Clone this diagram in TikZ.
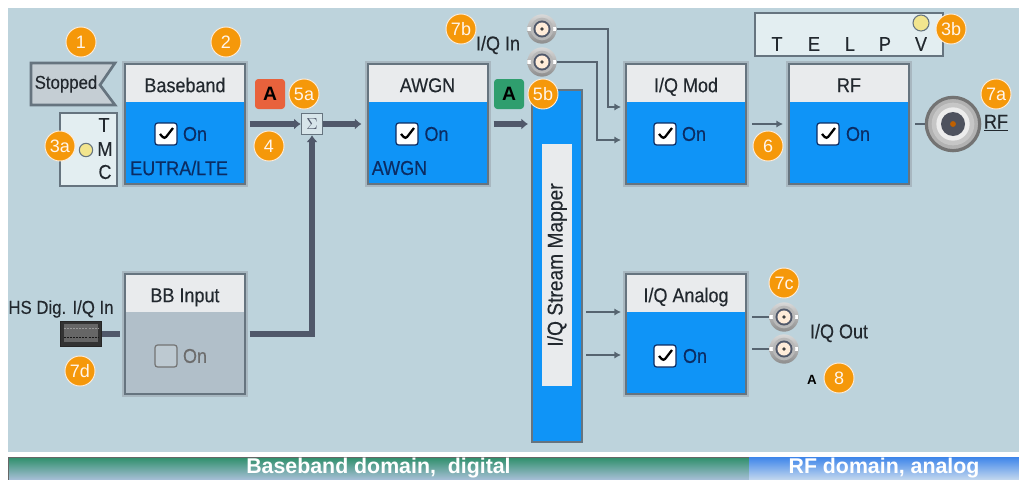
\documentclass[tikz,border=0pt]{standalone}
\usepackage{fontspec}
\setmainfont[FakeStretch=0.9,FakeBold=0.25]{Liberation Sans}
\newfontfamily\arialfont{Liberation Sans}
\usepackage{tikz}
\usetikzlibrary{arrows.meta}
\usetikzlibrary{positioning}
\definecolor{panelblue}{HTML}{BDD3DC}
\definecolor{blockblue}{HTML}{0F94F7}
\definecolor{headgray}{HTML}{E9EBED}
\definecolor{framedark}{HTML}{66747F}
\definecolor{framelight}{HTML}{A8B7C0}
\definecolor{wiredark}{HTML}{50586A}
\definecolor{wirethin}{HTML}{566470}
\definecolor{textdark}{HTML}{22282E}
\definecolor{textblue}{HTML}{0B2C63}
\definecolor{badgeorange}{HTML}{F5980A}
\definecolor{disabledgray}{HTML}{B1BFC9}
\definecolor{ledyellow}{HTML}{F2E58E}
\definecolor{boxpale}{HTML}{E3EEF1}
\definecolor{flaggray}{HTML}{C5CED4}
\definecolor{tagred}{HTML}{E8623C}
\definecolor{taggreen}{HTML}{2F9E6E}
\definecolor{bargreen}{HTML}{2E8F6A}
\definecolor{barpale}{HTML}{A8BFD8}
\definecolor{rfbarblue}{HTML}{3F86EA}
\definecolor{rfbarpale}{HTML}{C4D8EE}
\definecolor{jackdisc}{HTML}{4E525E}
\tikzset{
  lab/.style={font=\fontsize{15}{16}\selectfont,text=textdark,inner sep=0pt},
  sublab/.style={font=\fontsize{15}{16}\selectfont,text=textblue,inner sep=0pt,anchor=west},
  onlab/.style={font=\fontsize{15}{16}\selectfont,text=textblue,inner sep=0pt},
  blockframe/.style={rectangle,anchor=north west,inner sep=0pt,outer sep=0pt,
    minimum width=93pt,minimum height=93pt,fill=framedark,draw=framelight,line width=1.5pt},
  blockhead/.style={rectangle,anchor=north west,inner sep=0pt,outer sep=0pt,
    minimum width=88.5pt,minimum height=27.75pt,fill=headgray,lab,text height=13pt,text depth=0pt},
  blockbody/.style={rectangle,anchor=north west,inner sep=0pt,outer sep=0pt,
    minimum width=88.5pt,minimum height=60.75pt,fill=blockblue},
  checkbox/.style={rectangle,rounded corners=2pt,minimum size=16.5pt,inner sep=0pt,
    fill=white,draw=textblue,line width=.9pt},
  checked/.style={checkbox,path picture={
    \draw[line width=1.7pt,black]
      ([shift={(-6,0)}]path picture bounding box.center) -- ++(4.5,5) -- ++(8.5,-11);}},
  badge/.style={circle,minimum size=22.5pt,inner sep=0pt,fill=badgeorange,draw=white!85!orange,
    line width=.7pt,text=white!92!orange,font=\arialfont\fontsize{13.5}{14}\selectfont},
  tag/.style={rectangle,rounded corners=2.5pt,minimum size=22.5pt,inner sep=0pt,
    font=\arialfont\bfseries\fontsize{14.5}{15}\selectfont,text=black},
  thickwire/.style={wiredark,line width=4.4pt,-{Latex[length=5pt,width=8.5pt]}},
  plainwire/.style={wiredark,line width=4.4pt},
  thinwire/.style={wirethin,line width=1pt,-{Latex[length=5pt,width=5.5pt]}},
  stubwire/.style={wirethin,line width=1pt},
  infobox/.style={rectangle,inner sep=0pt,fill=boxpale,draw=framedark,line width=1.8pt},
  led/.style={circle,minimum size=#1,inner sep=0pt,fill=ledyellow,draw=framedark,line width=.8pt},
  bnc/.style={circle,minimum size=22pt,inner sep=0pt,top color=gray!30,bottom color=gray!90,
    path picture={
      \fill[white] ([shift={(-15,-2)}]path picture bounding box.center) rectangle ++(30,4);
      \fill[gray!55] (path picture bounding box.center) circle (8.5pt);
      \fill[wiredark] (path picture bounding box.center) circle (6.4pt);
      \fill[white!85!orange] (path picture bounding box.center) circle (4.9pt);
      \fill[black!75] (path picture bounding box.center) circle (1.4pt);}},
  rfjack/.style={circle,minimum size=40pt,inner sep=0pt,fill=gray!60,draw=gray!90!black,
    line width=2.4pt,path picture={
      \fill[gray!45] (path picture bounding box.center) circle (16pt);
      \fill[white!85!gray] (path picture bounding box.center) circle (12.5pt);
      \fill[jackdisc] (path picture bounding box.center) circle (9pt);
      \fill[orange!75!black] (path picture bounding box.center) circle (2.2pt);}},
  usbport/.style={rectangle,minimum width=31pt,minimum height=19pt,inner sep=0pt,
    fill=black!80,draw=black!85,line width=.9pt,path picture={
      \fill[black!60] ([shift={(-17,-10)}]path picture bounding box.center) rectangle ++(34,18);
      \draw[gray!80,line width=.7pt,dash pattern=on 1.5pt off .8pt]
        ([shift={(-17,-6)}]path picture bounding box.center) -- ++(34,0);
      \draw[black!90,line width=.7pt,dash pattern=on 1.5pt off .8pt]
        ([shift={(-17,3)}]path picture bounding box.center) -- ++(34,0);}},
}
\begin{document}
\begin{tikzpicture}[x=.75pt,y=-.75pt]
  \useasboundingbox (0,0) rectangle (1019,479);
  \fill[panelblue] (8,8) rectangle (1019,452);
  %%
  \node[rectangle,inner sep=0pt,outer sep=0pt,minimum width=555.75pt,minimum height=17pt,
        top color=bargreen,bottom color=barpale,
        text=white,font=\arialfont\bfseries\fontsize{16}{17}\selectfont,draw=black!60,line width=.5pt]
        (basedomain) at (378.5,468.5) {Baseband domain,\ \ digital};
  \node[rectangle,inner sep=0pt,outer sep=0pt,minimum width=202.5pt,minimum height=17pt,
        top color=rfbarblue,bottom color=rfbarpale,
        text=white,font=\arialfont\bfseries\fontsize{16}{17}\selectfont]
        (rfdomain) at (884,468.5) {RF domain, analog};
  %%
  \begin{scope}[shift={(126,65)},name prefix=bb-]
    \node[blockframe](frame) at (-3,-3) {};
    \node[blockhead](head) at (0,0) {Baseband};
    \node[blockbody](body) at (0,37) {};
    \node[checked](check) at (40,69) {};
    \node[onlab](on) at (69,69) {On};
    \node[sublab](sub) at (4,103) {EUTRA/LTE};
  \end{scope}
  %%
  \begin{scope}[shift={(368.5,65)},name prefix=awgn-]
    \node[blockframe](frame) at (-3,-3) {};
    \node[blockhead](head) at (0,0) {AWGN};
    \node[blockbody](body) at (0,37) {};
    \node[checked](check) at (38.5,69) {};
    \node[onlab](on) at (68,69) {On};
    \node[sublab](sub) at (3,103) {AWGN};
  \end{scope}
  %%
  \begin{scope}[shift={(627,65)},name prefix=mod-]
    \node[blockframe](frame) at (-3,-3) {};
    \node[blockhead](head) at (0,0) {I/Q Mod};
    \node[blockbody](body) at (0,37) {};
    \node[checked](check) at (38,69) {};
    \node[onlab](on) at (67,69) {On};
  \end{scope}
  %%
  \begin{scope}[shift={(790,65)},name prefix=rf-]
    \node[blockframe](frame) at (-3,-3) {};
    \node[blockhead](head) at (0,0) {RF};
    \node[blockbody](body) at (0,37) {};
    \node[checked](check) at (38,69) {};
    \node[onlab](on) at (68,69) {On};
  \end{scope}
  %%
  \begin{scope}[shift={(126,275)},name prefix=bbi-]
    \node[blockframe](frame) at (-3,-3) {};
    \node[blockhead](head) at (0,0) {BB Input};
    \node[blockbody,fill=disabledgray](body) at (0,37) {};
    \node[checkbox,fill=disabledgray!85!white,draw=gray!90!black](check) at (40,81) {};
    \node[onlab,text=gray!85!black](on) at (69,81) {On};
  \end{scope}
  %%
  \begin{scope}[shift={(627,275)},name prefix=ana-]
    \node[blockframe](frame) at (-3,-3) {};
    \node[blockhead](head) at (0,0) {I/Q Analog};
    \node[blockbody](body) at (0,37) {};
    \node[checked](check) at (38,81) {};
    \node[onlab](on) at (68,81) {On};
  \end{scope}
  %%
  \node[rectangle,inner sep=0pt,outer sep=0pt,minimum width=37.5pt,minimum height=264pt,
        fill=blockblue,draw=framedark,line width=1.8pt](mapper) at (557,266) {};
  \node[lab,rectangle,rotate=90,minimum width=182pt,minimum height=22.5pt,fill=headgray,
        font=\fontsize{16}{17}\selectfont](mappertext) at (557,265) {I/Q Stream Mapper};
  %%
  \draw[fill=flaggray,draw=framedark,line width=2pt]
    (31,63) -- (115,63) -- (100,85) -- (115,105) -- (31,105) -- cycle;
  \node[lab,font=\fontsize{14}{15}\selectfont](stopped) at (66,84) {Stopped};
  %%
  \node[infobox,minimum width=42.5pt,minimum height=55pt](tmcbox) at (88.5,149.5) {};
  \node[lab](tmcT) at (104,125) {T};
  \node[lab](tmcM) at (105,149) {M};
  \node[lab](tmcC) at (105,172) {C};
  \node[led=10pt](tmcled) at (86,150) {};
  %%
  \node[infobox,minimum width=141pt,minimum height=32pt](telpbox) at (849,34.5) {};
  \node[lab](telpT) at (777,44) {T};
  \node[lab](telpE) at (814,44) {E};
  \node[lab](telpL) at (850,44) {L};
  \node[lab](telpP) at (885,44) {P};
  \node[lab](telpV) at (921,44) {V};
  \node[led=12pt](telpled) at (921,23) {};
  %%
  \node[rectangle,draw=framedark,fill=panelblue!60!white,line width=1pt,minimum size=16pt,
        inner sep=0pt,font=\large,text=wiredark](sum) at (312,124) {$\Sigma$};
  \node[usbport](hsport) at (81,334) {};
  \node[lab,font=\fontsize{14}{15}\selectfont](hslabel) at (61,309) {HS Dig. I/Q In};
  \node[bnc](iqin1) at (542,29) {};
  \node[bnc](iqin2) at (542,62) {};
  \node[lab](iqinlabel) at (498,45) {I/Q In};
  \node[bnc](iqout1) at (784,317) {};
  \node[bnc](iqout2) at (784,349) {};
  \node[lab](iqoutlabel) at (839,333) {I/Q Out};
  \node[rfjack](rfjack) at (953,124) {};
  \node[lab,text=textdark](rflabel) at (996,123) {\underline{RF}};
  %%
  \coordinate (bendA) at (608,107);
  \coordinate (modinA) at (621,107);
  \coordinate (bendB) at (597,140);
  \coordinate (modinB) at (621,140);
  \coordinate (mapoutA) at (586,312);
  \coordinate (anainA) at (621,312);
  \coordinate (mapoutB) at (586,355);
  \coordinate (anainB) at (621,355);
  %%
  \draw[thickwire,shorten <=2pt] (bb-frame.east) -- (sum.west);
  \draw[thickwire] (sum.east) -- ([xshift=-3pt]awgn-frame.west);
  \draw[thickwire,shorten <=3pt] (awgn-frame.east) -- ([xshift=-3pt]mapper.west|-awgn-frame.east);
  \draw[plainwire,shorten <=2pt] (bbi-frame.east) -| (312,160);
  \draw[thickwire] (312,160) -- (sum.south);
  \draw[plainwire] (hsport.east) -- ([xshift=-2pt]bbi-frame.west|-hsport.east);
  \draw[thinwire] (iqin1.east) -| (bendA) -- (modinA);
  \draw[thinwire] (iqin2.east) -| (bendB) -- (modinB);
  \draw[thinwire,shorten <=3pt,shorten >=3pt] (mod-frame.east) -- (rf-frame.west);
  \draw[stubwire,shorten <=3pt] (rf-frame.east) -- (rfjack.west);
  \draw[thinwire] (mapoutA) -- (anainA);
  \draw[thinwire] (mapoutB) -- (anainB);
  \draw[stubwire,shorten <=3pt] (ana-frame.east|-iqout1) -- (iqout1.west);
  \draw[stubwire,shorten <=3pt] (ana-frame.east|-iqout2) -- (iqout2.west);
  %%
  \node[tag,fill=tagred](tagA) at (270,94) {A};
  \node[tag,fill=taggreen](tagB) at (509,94) {A};
  \node[font=\arialfont\bfseries\fontsize{10}{11}\selectfont,text=black,inner sep=0pt](tagC) at (812,380) {A};
  %%
  \node[badge](n1) at (81,42) {1};
  \node[badge](n2) at (226,42) {2};
  \node[badge](n3a) at (60,146) {3a};
  \node[badge](n3b) at (951,29) {3b};
  \node[badge](n4) at (269,146) {4};
  \node[badge](n5a) at (304,94) {5a};
  \node[badge](n5b) at (543,94) {5b};
  \node[badge](n6) at (768,146) {6};
  \node[badge](n7a) at (996,94) {7a};
  \node[badge](n7b) at (461,29) {7b};
  \node[badge](n7c) at (784,283) {7c};
  \node[badge](n7d) at (80,371) {7d};
  \node[badge](n8) at (839,378) {8};
\end{tikzpicture}
\end{document}
